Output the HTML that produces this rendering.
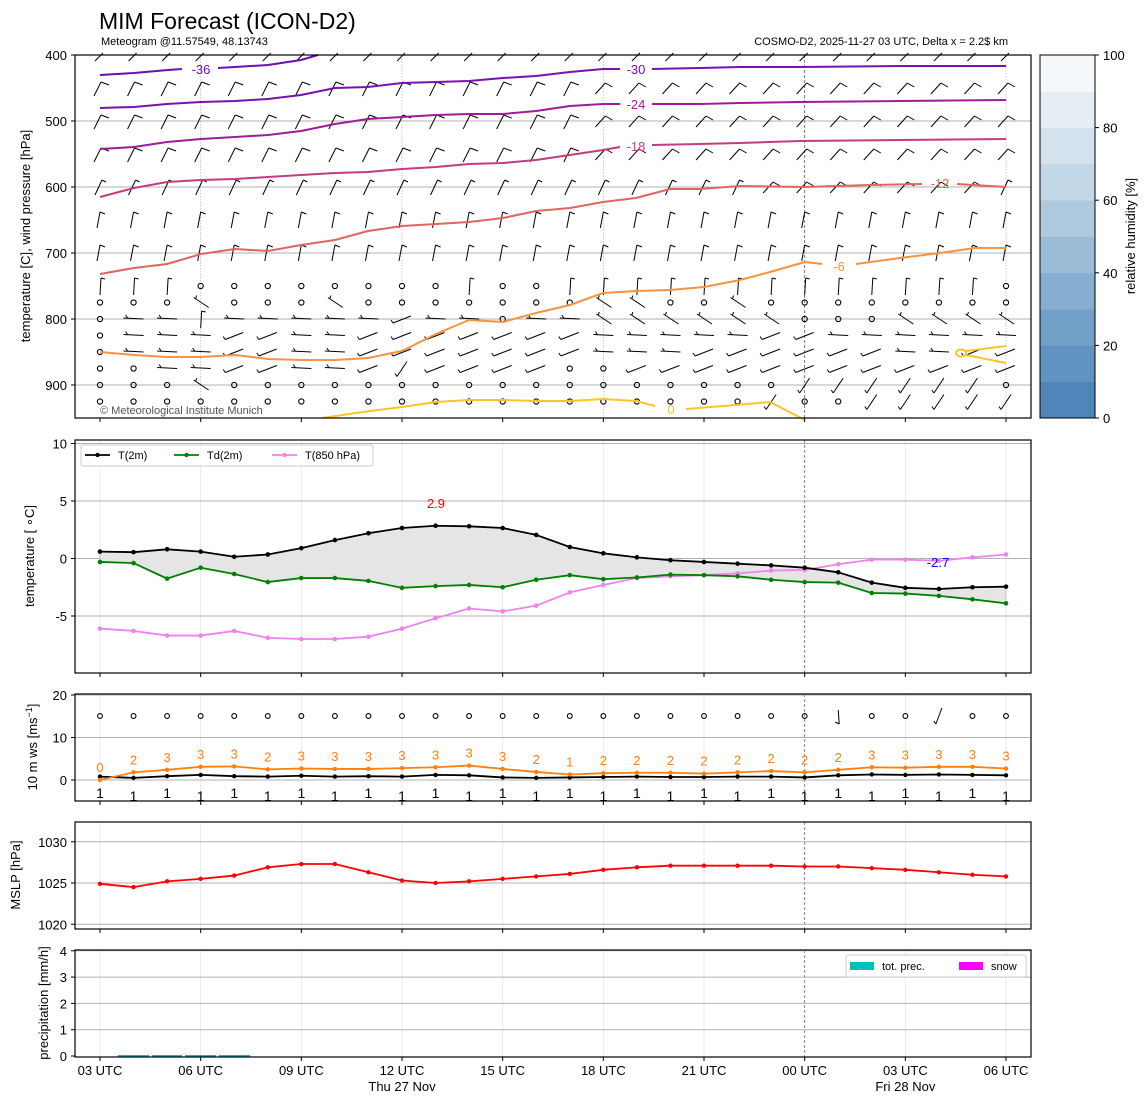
<!DOCTYPE html>
<html><head><meta charset="utf-8"><style>
body{margin:0;background:#fff}
svg text{font-family:"Liberation Sans","DejaVu Sans",sans-serif}
</style></head><body>
<svg id="s" width="1148" height="1105" xmlns="http://www.w3.org/2000/svg"></svg>
<script>
const S=document.getElementById('s');let h='';
const X=i=>100+33.556*i;
function L(x1,y1,x2,y2,c,w,extra){h+=`<line x1="${x1}" y1="${y1}" x2="${x2}" y2="${y2}" stroke="${c||'#000'}" stroke-width="${w||1}" ${extra||''}/>`;}
function T(x,y,t,o){o=o||{};h+=`<text x="${x}" y="${y}" font-size="${o.s||13}" fill="${o.c||'#000'}" text-anchor="${o.a||'middle'}" ${o.e||''}>${t}</text>`;}
function PL(pts,c,w){h+=`<polyline points="${pts.map(p=>p.join(',')).join(' ')}" fill="none" stroke="${c}" stroke-width="${w||2}" stroke-linejoin="round"/>`;}
function pairs(a){const r=[];for(let i=0;i<a.length;i+=2)r.push([a[i],a[i+1]]);return r;}
// titles
T(99,29,'MIM Forecast (ICON-D2)',{s:23,a:'start'});
T(101,45,'Meteogram @11.57549, 48.13743',{s:11,a:'start'});
T(1008,45,'COSMO-D2, 2025-11-27 03 UTC, Delta x = 2.2$ km',{s:11,a:'end'});
const ticksX=[0,3,6,9,12,15,18,21,24,27];
const panels=[[55,418],[440,673],[694,801],[822,929],[950,1057]];
// vertical grids panels 2-5
panels.slice(1).forEach(([a,b])=>{ticksX.forEach(i=>{if(i==21)L(X(i),a,X(i),b,'#666',0.8,'stroke-dasharray="3,2"');else L(X(i),a,X(i),b,'#e6e6e6',0.8);});});
// panel1 verticals
[3,9,15,27].forEach(i=>L(X(i),55,X(i),418,'#bbb',0.8,'stroke-dasharray="1.5,1.5"'));
L(X(21),55,X(21),418,'#555',0.8,'stroke-dasharray="3,2"');
// Panel1 grid
const yp=p=>55+(p-400)*0.66;
[500,600,700,800,900].forEach(p=>L(75,yp(p),1031,yp(p),'#b0b0b0',1));
// barbs
function barb(x,y,t){
 const k='#000';
 if(t=='o'){h+=`<circle cx="${x}" cy="${y}" r="2.6" fill="none" stroke="#000" stroke-width="1.1"/>`;return;}
 const seg=(a,b,c,d)=>L(x+a,y+b,x+c,y+d,k,1);
 switch(t){
 case 'F':seg(-6,8,1,-6);seg(1,-6,9,-3);break;
 case 'A':seg(-8,6,2,-5);seg(2,-5,9,-1);break;
 case 'G':seg(-5,8,2,-7);seg(2,-7,6,-5);break;
 case 'r':seg(-3,8,0,-8);seg(0,-8,5,-6);break;
 case 'u':seg(-5,3,3,-5);break;
 case 'v':seg(0,9,1,-8);seg(1,-8,5,-7);break;
 case 'h':seg(-10,-1,10,0);seg(-6,-1,-8,-4);break;
 case 'd':seg(-9,4,9,-3);seg(-9,4,-11,1);break;
 case 's':seg(-5,8,5,-7);seg(-5,8,-7,5);break;
 case 'b':seg(-7,-5,8,5);seg(-5,-4,-4,-7);break;
 }
}
for(let i=0;i<28;i++){
 barb(X(i),58,'u');
 [450,500,550].forEach(p=>barb(X(i),yp(p),i<15?'F':'A'));
 barb(X(i),yp(600),i<20?'G':(i<27?'A':'G'));
 barb(X(i),yp(650),'r');barb(X(i),yp(700),'r');
}
const low={750:'vvvoooooooovoovvvvvvvvvvvvvo',775:'ooobooobooooooobbooboooooooo',800:'ohhvhhhhhdhhohhbbbbbbooobbbbb',825:'ohhhddhhdddddddhhhhhddhhhhhh',850:'ohhhddhhdddddddhhhddddddhhdd',875:'oohhddhhdsddddooddddddddddddd',900:'ooobooooooooooooooooosssssso',925:'oooooooooooooooooooosoossssss'};
Object.keys(low).forEach(p=>{const s=low[p];for(let i=0;i<28;i++)barb(X(i),yp(+p),s[i]);});
// contours
const C={'-36':'#6a0fb0','-30':'#7b10b0','-24':'#a1199c','-18':'#c43c80','-12':'#e0655f','-6':'#f7923f','0':'#fcc427'};
PL(pairs([100,75,134,73,168,70,182,69]),C['-36']);PL(pairs([218,68,235,67,268,65,301,60,318,55]),C['-36']);
PL(pairs([100,108,134,107,167,104,201,102,235,101,268,99,301,95,335,88,368,87,402,83,436,82,469,81,503,78,536,76,570,72,603,69,620,69]),C['-30']);
PL(pairs([652,69,700,68,740,67,800,67,900,66,1006,66]),C['-30']);
PL(pairs([100,149,134,147,167,142,201,139,235,137,268,135,301,131,335,124,368,119,402,117,436,115,469,114,503,114,536,111,570,106,603,104,620,104]),C['-24']);
PL(pairs([652,104,700,104,740,103,800,102,900,101,1006,100]),C['-24']);
PL(pairs([100,197,134,188,167,182,201,180,235,179,268,177,301,175,335,173,368,172,402,169,436,167,469,164,503,163,536,160,570,155,603,150,620,147]),C['-18']);
PL(pairs([652,145,700,144,740,143,800,141,900,140,1006,139]),C['-18']);
PL(pairs([100,274,134,268,167,264,201,254,235,249,268,251,301,245,335,240,368,231,402,226,436,224,469,222,503,218,536,211,570,208,603,202,636,198,670,189,700,189,740,186,805,187,870,185,922,184]),C['-12']);
PL(pairs([957,184,1006,187]),C['-12']);
PL(pairs([100,352,134,355,167,357,201,357,235,355,268,359,301,360,335,360,368,358,402,351,436,334,469,320,503,322,536,313,570,305,603,293,636,291,670,290,704,287,740,280,770,272,805,262,822,264]),C['-6']);
PL(pairs([856,264,900,258,940,253,975,248,1006,248]),C['-6']);
PL(pairs([322,418,370,411,402,407,436,402,469,400,503,400,536,401,570,401,603,399,636,401,655,406]),C['0']);
PL(pairs([686,409,736,405,770,402,805,420]),C['0']);
PL(pairs([966,351,1006,346]),C['0']);PL(pairs([966,355,1006,363]),C['0']);
h+=`<ellipse cx="961" cy="353" rx="5" ry="3.5" fill="none" stroke="${C['0']}" stroke-width="2"/>`;
T(201,74,'-36',{c:C['-36']});T(636,74,'-30',{c:C['-30']});T(636,109,'-24',{c:C['-24']});T(636,151,'-18',{c:C['-18']});
T(940,188,'-12',{c:C['-12']});T(839,271,'-6',{c:C['-6']});T(671,414,'0',{c:C['0']});
T(100,414,'© Meteorological Institute Munich',{s:11,c:'#555',a:'start'});
// panel frames & y ticks
function yt(x,y,t){L(x-4,y,x,y,'#000',1);T(x-8,y+5,t,{a:'end'});}
[400,500,600,700,800,900].forEach(p=>yt(75,yp(p),p));
// colorbar
const cb=['#4f86ba','#6093c1','#73a0c8','#87aed0','#9bbcd7','#afcadf','#c2d7e8','#d4e2ee','#e5edf5','#f5f9fc'];
cb.forEach((c,k)=>{h+=`<rect x="1040" y="${418-(k+1)*36.3}" width="55" height="36.6" fill="${c}"/>`;});
h+=`<rect x="1040" y="55" width="55" height="363" fill="none" stroke="#000"/>`;
[0,20,40,60,80,100].forEach(v=>{const y=418-v*3.63;L(1095,y,1099,y);T(1103,y+5,v,{a:'start'});});
T(0,0,'relative humidity [%]',{e:'transform="translate(1135,236) rotate(-90)"'});
// Panel2
const y2=t=>558.5-11.5*t;
[10,5,0,-5].forEach(t=>{L(75,y2(t),1031,y2(t),'#b0b0b0',1);yt(75,y2(t),t);});
const T2=[0.6,0.55,0.8,0.6,0.15,0.35,0.9,1.6,2.2,2.65,2.85,2.8,2.65,2.05,1.0,0.45,0.1,-0.15,-0.3,-0.45,-0.6,-0.8,-1.2,-2.1,-2.55,-2.65,-2.5,-2.45];
const Td=[-0.3,-0.4,-1.75,-0.8,-1.35,-2.05,-1.7,-1.7,-1.95,-2.55,-2.4,-2.3,-2.5,-1.85,-1.45,-1.8,-1.65,-1.4,-1.45,-1.55,-1.85,-2.05,-2.1,-3.0,-3.05,-3.25,-3.55,-3.9];
const T8=[-6.1,-6.3,-6.7,-6.7,-6.3,-6.9,-7.0,-7.0,-6.8,-6.1,-5.2,-4.35,-4.6,-4.1,-2.95,-2.3,-1.7,-1.55,-1.45,-1.3,-1.05,-1.0,-0.5,-0.1,-0.1,-0.2,0.1,0.35];
let poly=T2.map((v,i)=>X(i)+','+y2(v)).join(' ')+' '+Td.map((v,i)=>X(i)+','+y2(v)).reverse().join(' ');
h+=`<polygon points="${poly}" fill="#e5e5e5" stroke="#aaa" stroke-width="0.6"/>`;
function series(d,f,c,r){PL(d.map((v,i)=>[X(i),f(v)]),c,1.8);d.forEach((v,i)=>h+=`<circle cx="${X(i)}" cy="${f(v)}" r="${r||2.3}" fill="${c}"/>`);}
series(T8,y2,'#ee82ee');series(Td,y2,'#008000');series(T2,y2,'#000');
T(436,508,'2.9',{c:'#f00'});T(938,567,'-2.7',{c:'#00f'});
h+=`<rect x="81" y="445" width="292" height="21" rx="2" fill="#fff" fill-opacity="0.85" stroke="#ccc"/>`;
[['#000','T(2m)',85],['#008000','Td(2m)',174],['#ee82ee','T(850 hPa)',272]].forEach(([c,t,x])=>{L(x,455,x+25,455,c,1.8);h+=`<circle cx="${x+12.5}" cy="455" r="2.2" fill="${c}"/>`;T(x+33,459,t,{s:11,a:'start'});});
// Panel3
const y3=v=>780-4.25*v;
[20,10].forEach(v=>L(75,y3(v),1031,y3(v),'#b0b0b0',1));L(75,780,1031,780,'#b0b0b0',1);
[20,10,0].forEach(v=>yt(75,y3(v),v));
const G=[0,1.8,2.4,3.1,3.2,2.5,2.7,2.6,2.6,2.8,3.0,3.4,2.6,1.9,1.3,1.6,1.7,1.7,1.5,1.8,2.1,1.8,2.4,3.0,2.9,3.1,3.1,2.7];
const GL=[0,2,3,3,3,2,3,3,3,3,3,3,3,2,1,2,2,2,2,2,2,2,2,3,3,3,3,3];
const W=[0.8,0.5,0.9,1.2,0.9,0.8,1.0,0.8,0.9,0.8,1.2,1.1,0.6,0.5,0.6,0.7,0.8,0.7,0.7,0.8,0.8,0.6,1.1,1.3,1.2,1.3,1.2,1.1];
series(W,y3,'#000',2.2);series(G,y3,'#ff7f0e',2.2);
G.forEach((v,i)=>T(X(i),y3(v)-8,GL[i],{c:'#ff7f0e'}));
W.forEach((v,i)=>T(X(i),798+(i%2?3:0),1,{s:14}));
for(let i=0;i<28;i++){const x=X(i),y=716;if(i==22){L(x,710,x+1,724);L(x-3,722,x+1,724);}else if(i==25){L(x-3,724,x+3,708);L(x-3,724,x-5,721);}else h+=`<circle cx="${x}" cy="${y}" r="2.4" fill="none" stroke="#000" stroke-width="1.1"/>`;}
// Panel4
const y4=p=>883-(p-1025)*8.25;
[1030,1025,1020].forEach(p=>{L(75,y4(p),1031,y4(p),'#b0b0b0',1);yt(75,y4(p),p);});
const M=[1024.9,1024.5,1025.2,1025.5,1025.9,1026.9,1027.3,1027.3,1026.3,1025.3,1025.0,1025.2,1025.5,1025.8,1026.1,1026.6,1026.9,1027.1,1027.1,1027.1,1027.1,1027.0,1027.0,1026.8,1026.6,1026.3,1026.0,1025.8];
series(M,y4,'#f00',2.2);
// Panel5
const y5=r=>1056-26.3*r;
[1,2,3,4].forEach(r=>L(75,y5(r),1031,y5(r),'#b0b0b0',1));
[0,1,2,3,4].forEach(r=>yt(75,y5(r),r));
[[118,149],[152,182],[185,216],[219,250]].forEach(([a,b])=>h+=`<rect x="${a}" y="1055" width="${b-a}" height="1.5" fill="#00bfbf"/>`);
h+=`<rect x="846" y="955" width="180" height="22" rx="2" fill="#fff" stroke="#ccc"/>`;
h+=`<rect x="850" y="962" width="24" height="8" fill="#00bfbf"/><rect x="959" y="962" width="24" height="8" fill="#ff00ff"/>`;
T(882,970,'tot. prec.',{s:11,a:'start'});T(991,970,'snow',{s:11,a:'start'});
// frames
panels.forEach(([a,b])=>h+=`<rect x="75" y="${a}" width="956" height="${b-a}" fill="none" stroke="#000" stroke-width="1.2"/>`);
panels.forEach(([a,b])=>ticksX.forEach(i=>L(X(i),b,X(i),b+4)));
const xl=['03 UTC','06 UTC','09 UTC','12 UTC','15 UTC','18 UTC','21 UTC','00 UTC','03 UTC','06 UTC'];
ticksX.forEach((i,k)=>T(X(i),1075,xl[k]));
T(X(9),1091,'Thu 27 Nov');T(X(24),1091,'Fri 28 Nov');
// y labels
function yl(x,y,t){T(0,0,t,{e:`transform="translate(${x},${y}) rotate(-90)"`});}
yl(30,236,'temperature [C], wind pressure [hPa]');
yl(34,556,'temperature [$^\\circ$C]'.replace('$^\\circ$',' ∘'));
yl(37,747,'10 m ws [ms<tspan font-size="9" dy="-5">−1</tspan><tspan dy="5">]</tspan>');
yl(20,875,'MSLP [hPa]');
yl(48,1003,'precipitation [mm/h]');
S.innerHTML=h;
</script>
</body></html>
